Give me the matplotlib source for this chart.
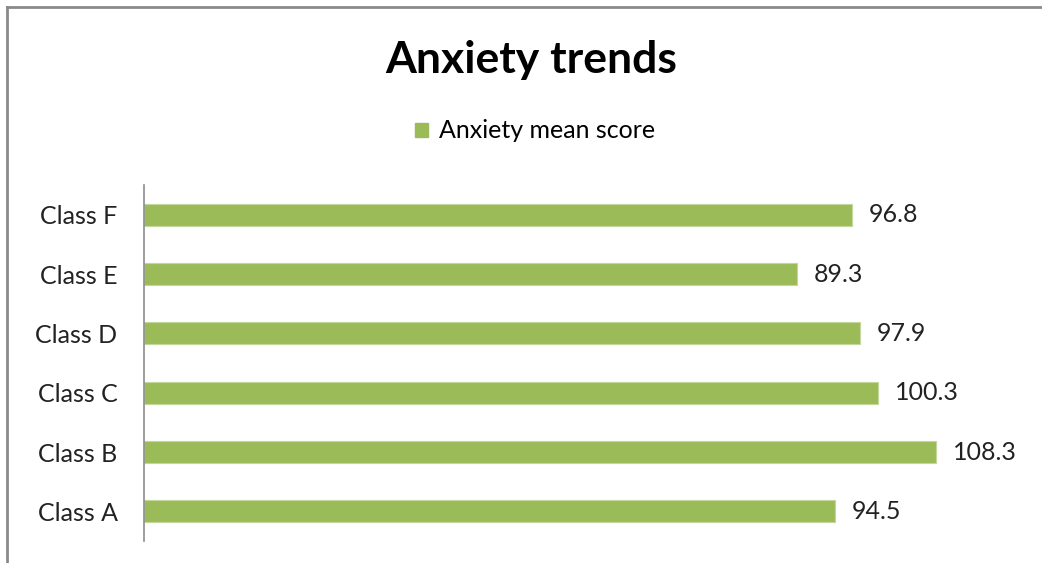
import matplotlib
matplotlib.use("Agg")
import matplotlib.pyplot as plt
from matplotlib.lines import Line2D
from matplotlib.patches import Patch

categories = ["Class A", "Class B", "Class C", "Class D", "Class E", "Class F"]
values = [94.5, 108.3, 100.3, 97.9, 89.3, 96.8]
series_name = "Anxiety mean score"
title = "Anxiety trends"

W, H = 1042, 563
fig = plt.figure(figsize=(W / 100, H / 100), dpi=100)
fig.patch.set_facecolor("white")
plt.rcParams["font.family"] = ["Lato", "DejaVu Sans"]

left, right, top, bottom = 144, 1022, 185, 541
ax = fig.add_axes([left / W, 1 - bottom / H, (right - left) / W, (bottom - top) / H])
color = "#9BBB59"
y = list(range(len(categories)))
ax.barh(y, values, height=0.37, color=color, edgecolor="#C3D69B", linewidth=0.8)
ax.set_xlim(0, 120)
ax.set_ylim(-0.5, len(categories) - 0.5)
ax.set_yticks(y)
ax.set_yticklabels(categories, fontsize=18, color="#222222")
ax.tick_params(axis="y", length=0, pad=19)
ax.set_xticks([])
for s in ["top", "right", "bottom"]:
    ax.spines[s].set_visible(False)
ax.spines["left"].set_color("#8C8C8C")
ax.spines["left"].set_linewidth(1.2)

for yi, v in zip(y, values):
    ax.annotate(f"{v}", xy=(v, yi), xytext=(12, 0), textcoords="offset points",
                ha="left", va="center", fontsize=18, color="#222222")

fig.text(531 / W, 1 - 60 / H, title, ha="center", va="center", fontsize=32, fontweight="bold", color="black")

leg = fig.legend(handles=[Patch(facecolor=color, edgecolor=color)], labels=[series_name],
                 loc="center", bbox_to_anchor=(535 / W, 1 - 131 / H), frameon=False,
                 fontsize=18, handlelength=0.5, handleheight=0.5, handletextpad=0.45)

fig.add_artist(Line2D([7 / W, 7 / W], [0, 1 - 7 / H], color="#8A8A8A", linewidth=2, transform=fig.transFigure))
fig.add_artist(Line2D([7 / W, 1], [1 - 7 / H, 1 - 7 / H], color="#8A8A8A", linewidth=2, transform=fig.transFigure))

fig.savefig("out.png", dpi=100, facecolor="white")
